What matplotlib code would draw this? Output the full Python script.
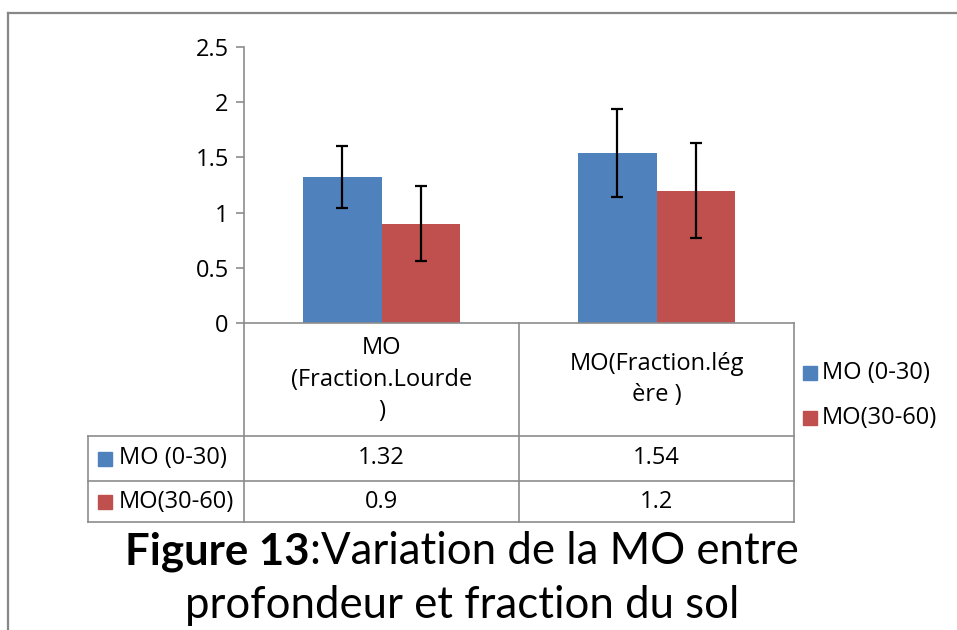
import matplotlib
matplotlib.use("Agg")
import matplotlib.pyplot as plt
from matplotlib.lines import Line2D
from matplotlib.patches import Rectangle
import numpy as np

plt.rcParams['font.family'] = ['Open Sans', 'DejaVu Sans']

categories = ["MO\n(Fraction.Lourde\n)", "MO(Fraction.lég\nère )"]
series_names = ["MO (0-30)", "MO(30-60)"]
mo_0_30 = [1.32, 1.54]
mo_30_60 = [0.9, 1.2]
err_0_30 = [0.28, 0.40]
err_30_60 = [0.34, 0.43]
table_text = [["1.32", "1.54"], ["0.9", "1.2"]]
yticks = [0, 0.5, 1, 1.5, 2, 2.5]
ytick_labels = ["0", "0.5", "1", "1.5", "2", "2.5"]
colors = ["#4F81BD", "#C0504D"]

W, H = 957, 630
fig = plt.figure(figsize=(W / 100, H / 100), dpi=100)

def fx(px):
    return px / W

def fy(py):
    return 1 - py / H

FS = 17
gray = "#8C8C8C"
ax_left, ax_right, ax_top, ax_bottom = 244, 794, 47, 323
ax = fig.add_axes([fx(ax_left), fy(ax_bottom), fx(ax_right - ax_left), (ax_bottom - ax_top) / H])

x = np.arange(len(categories))
bw = 0.284
ax.bar(x - bw / 2, mo_0_30, bw, color=colors[0], yerr=err_0_30,
       error_kw=dict(ecolor="black", elinewidth=1.6, capsize=4, capthick=1.6), zorder=2)
ax.bar(x + bw / 2, mo_30_60, bw, color=colors[1], yerr=err_30_60,
       error_kw=dict(ecolor="black", elinewidth=1.6, capsize=4, capthick=1.6), zorder=2)

ax.set_xlim(-0.5, len(categories) - 0.5)
ax.set_ylim(0, 2.5)
ax.set_yticks(yticks)
ax.set_yticklabels(ytick_labels, fontsize=FS)
ax.set_xticks([])
for s in ["top", "right"]:
    ax.spines[s].set_visible(False)
ax.spines["left"].set_color(gray)
ax.spines["bottom"].set_color(gray)
ax.spines["left"].set_linewidth(1.2)
ax.spines["bottom"].set_linewidth(1.2)
ax.tick_params(axis="y", length=6, width=1.2, color=gray, pad=5)
ax.patch.set_alpha(0)

fig.canvas.draw()
renderer = fig.canvas.get_renderer()

def data_to_fig(xd):
    disp = ax.transData.transform((xd, 0))
    return fig.transFigure.inverted().transform(disp)[0]

col_edges = [data_to_fig(v) for v in np.arange(len(categories) + 1) - 0.5]
row_y = [323, 436, 481, 522]
left_col = fx(88)

def hline(x0, x1, y):
    fig.add_artist(Line2D([x0, x1], [fy(y), fy(y)], color=gray, lw=1.2, transform=fig.transFigure))

def vline(xf, y0, y1):
    fig.add_artist(Line2D([xf, xf], [fy(y0), fy(y1)], color=gray, lw=1.2, transform=fig.transFigure))

for y in row_y[1:]:
    hline(left_col, col_edges[-1], y)
for xe in col_edges:
    vline(xe, row_y[0], row_y[-1])
vline(left_col, row_y[1], row_y[-1])

for i, cat in enumerate(categories):
    cx = (col_edges[i] + col_edges[i + 1]) / 2
    fig.text(cx, fy((row_y[0] + row_y[1]) / 2), cat, ha="center", va="center",
             fontsize=FS, linespacing=1.4)
    for r in range(2):
        cy = (row_y[r + 1] + row_y[r + 2]) / 2
        fig.text(cx, fy(cy), table_text[r][i], ha="center", va="center", fontsize=FS)

for r, name in enumerate(series_names):
    cy = (row_y[r + 1] + row_y[r + 2]) / 2
    fig.add_artist(Rectangle((fx(98), fy(cy + 7)), fx(14), 14 / H, color=colors[r],
                             transform=fig.transFigure))
    fig.text(fx(119), fy(cy), name, ha="left", va="center", fontsize=FS)

# legend
for r, name in enumerate(series_names):
    cy = [373, 418][r]
    fig.add_artist(Rectangle((fx(803), fy(cy + 7)), fx(14), 14 / H, color=colors[r],
                             transform=fig.transFigure))
    fig.text(fx(822), fy(cy), name, ha="left", va="center", fontsize=FS)

# figure border (left and top)
fig.add_artist(Line2D([fx(8), fx(8)], [fy(13), 0], color="#878787", lw=1.6, transform=fig.transFigure))
fig.add_artist(Line2D([fx(8), 1], [fy(13), fy(13)], color="#878787", lw=1.6, transform=fig.transFigure))

# caption
CFS = 31.5
cap_x = fx(462)
bold_part = "Figure 13"
rest_part = ":Variation de la MO entre"
tb = fig.text(0, fy(552), bold_part, ha="left", va="center", fontsize=CFS, fontweight="bold",
              family=["Lato", "DejaVu Sans"])
tr = fig.text(0, fy(552), rest_part, ha="left", va="center", fontsize=CFS,
              family=["Lato", "DejaVu Sans"])
wb = tb.get_window_extent(renderer).width / W
wr = tr.get_window_extent(renderer).width / W
start = cap_x - (wb + wr) / 2
tb.set_x(start)
tr.set_x(start + wb)
fig.text(cap_x, fy(605), "profondeur et fraction du sol", ha="center", va="center", fontsize=CFS,
         family=["Lato", "DejaVu Sans"])

fig.savefig("out.png", dpi=100)
